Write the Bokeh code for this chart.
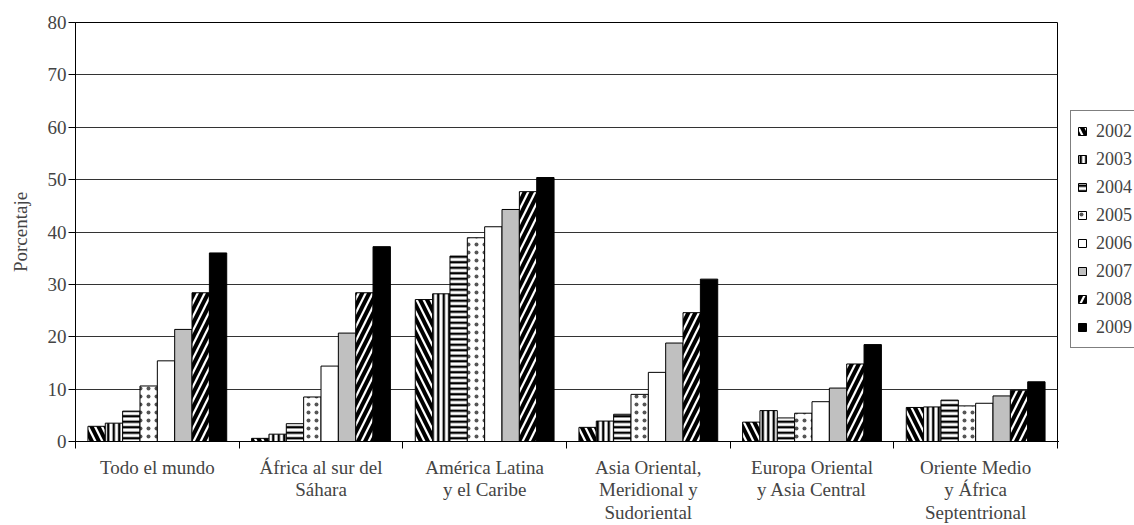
import numpy as np
from bokeh.plotting import figure
from bokeh.layouts import row
from bokeh.models import ColumnDataSource, Range1d, FixedTicker, Legend, LegendItem
from bokeh.embed import file_html
from bokeh.resources import INLINE

categories = ["Todo el mundo", "África al sur del\nSáhara", "América Latina\ny el Caribe",
              "Asia Oriental,\nMeridional y\nSudoriental", "Europa Oriental\ny Asia Central",
              "Oriente Medio\ny África\nSeptentrional"]
years = ["2002", "2003", "2004", "2005", "2006", "2007", "2008", "2009"]

y2002 = [2.9, 0.6, 27.1, 2.7, 3.7, 6.5]
y2003 = [3.5, 1.4, 28.2, 3.9, 5.9, 6.6]
y2004 = [5.8, 3.4, 35.4, 5.2, 4.5, 7.9]
y2005 = [10.6, 8.5, 38.9, 9.0, 5.4, 6.8]
y2006 = [15.4, 14.4, 41.0, 13.2, 7.6, 7.3]
y2007 = [21.4, 20.7, 44.3, 18.8, 10.2, 8.7]
y2008 = [28.4, 28.4, 47.7, 24.6, 14.8, 9.8]
y2009 = [36.0, 37.2, 50.4, 31.0, 18.5, 11.4]
series = [y2002, y2003, y2004, y2005, y2006, y2007, y2008, y2009]

FONT = "Liberation Serif"

styles = [
    dict(fill_color="white", hatch_pattern="\\", hatch_scale=14, hatch_weight=4, hatch_color="black"),
    dict(fill_color="white", hatch_pattern="|", hatch_scale=5.5, hatch_weight=2.4, hatch_color="black"),
    dict(fill_color="white", hatch_pattern="-", hatch_scale=5.5, hatch_weight=2.4, hatch_color="black"),
    dict(fill_color="white", hatch_pattern=".", hatch_scale=8, hatch_weight=1.2, hatch_color="#555555"),
    dict(fill_color="white"),
    dict(fill_color="#c0c0c0"),
    dict(fill_color="white", hatch_pattern="/", hatch_scale=14, hatch_weight=4, hatch_color="black"),
    dict(fill_color="black"),
]

ncat = len(categories)
nser = len(years)
bar_w = 0.106
centers = np.arange(ncat) + 0.5

W, H = 1134, 525
PW = 1058
p = figure(width=PW, height=H, output_backend="svg", toolbar_location=None,
           x_range=Range1d(0, ncat), y_range=Range1d(0, 80),
           min_border_left=75, min_border_right=1, min_border_top=22, min_border_bottom=82)
p.background_fill_color = "white"
p.outline_line_color = "black"
p.outline_line_width = 1

sources = []
for i, (yr, vals) in enumerate(zip(years, series)):
    xs = centers + (i - (nser - 1) / 2) * bar_w
    src = ColumnDataSource(dict(x=xs, top=vals))
    sources.append(src)
    p.vbar(x="x", top="top", width=bar_w, bottom=0, source=src,
           line_color="black", line_width=1, **styles[i])

# y axis
p.yaxis.ticker = FixedTicker(ticks=list(range(0, 81, 10)))
p.yaxis.axis_label = "Porcentaje"
p.yaxis.axis_label_text_font = FONT
p.yaxis.axis_label_text_font_style = "normal"
p.yaxis.axis_label_text_font_size = "19px"
p.yaxis.axis_label_standoff = 14
p.yaxis.major_label_text_font = FONT
p.yaxis.major_label_text_font_size = "19px"
p.yaxis.major_label_standoff = 2
p.yaxis.major_tick_in = 0
p.yaxis.major_tick_out = 7
p.yaxis.minor_tick_out = 0
p.yaxis.minor_tick_in = 0
p.yaxis.axis_line_color = "black"

# x axis
p.xaxis.ticker = FixedTicker(ticks=list(centers), minor_ticks=list(range(0, ncat + 1)))
p.xaxis.major_label_overrides = {float(c): lab for c, lab in zip(centers, categories)}
p.xaxis.major_label_text_font = FONT
p.xaxis.major_label_text_font_size = "19px"
p.xaxis.major_label_text_line_height = 1.08
p.xaxis.major_label_standoff = 8
p.xaxis.major_tick_in = 0
p.xaxis.major_tick_out = 0
p.xaxis.minor_tick_in = 0
p.xaxis.minor_tick_out = 7
p.xaxis.minor_tick_line_color = "black"
p.xaxis.axis_line_color = "black"

p.xgrid.visible = False
p.ygrid.ticker = FixedTicker(ticks=list(range(10, 81, 10)))
p.ygrid.grid_line_color = "#333333"
p.ygrid.grid_line_width = 1

# legend panel: a small figure holding only the legend (its data lie outside its view)
lf = figure(width=W - PW, height=H, output_backend="svg", toolbar_location=None,
            x_range=Range1d(100, 101), y_range=Range1d(100, 101),
            min_border_left=0, min_border_right=0, min_border_top=0, min_border_bottom=0)
lf.axis.visible = False
lf.grid.visible = False
lf.outline_line_color = None
items = []
for i, yr in enumerate(years):
    r = lf.vbar(x="x", top="top", width=bar_w, bottom=0, source=sources[i],
                line_color="black", line_width=1, **styles[i])
    items.append(LegendItem(label=yr, renderers=[r]))

legend = Legend(items=items, location=(12, 93))
legend.label_text_font = FONT
legend.label_text_font_size = "18px"
legend.glyph_width = 10
legend.glyph_height = 10
legend.label_height = 28
legend.spacing = 0
legend.padding = 6
legend.margin = 0
legend.label_standoff = 9
legend.border_line_color = "black"
legend.border_line_width = 1
legend.background_fill_alpha = 1
lf.add_layout(legend, "center")

layout = row(p, lf)
open("out.html", "w").write(file_html(layout, INLINE))
